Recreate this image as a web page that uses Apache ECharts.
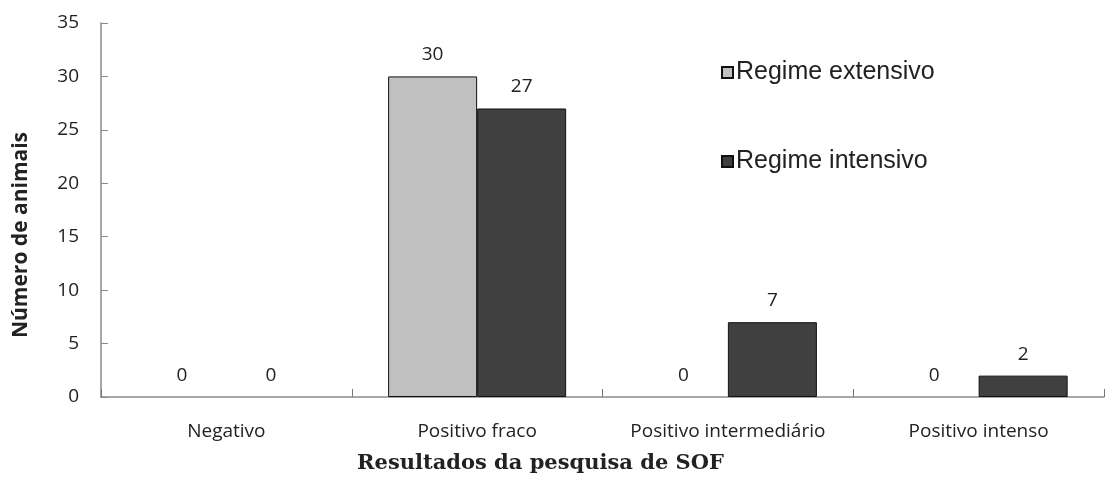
<!DOCTYPE html>
<html>
<head>
<meta charset="utf-8">
<script src="https://cdn.jsdelivr.net/npm/echarts@6/dist/echarts.min.js"></script>
<style>
  html, body { margin: 0; padding: 0; background: #fff; }
  #chart { width: 1110px; height: 483px; }
</style>
</head>
<body>
<div id="chart"></div>
<script>
// Resultados da pesquisa de SOF por regime de criação
const categories = ['Negativo', 'Positivo fraco', 'Positivo intermediário', 'Positivo intenso'];
const extensivo = [0, 30, 0, 0];
const intensivo = [0, 27, 7, 2];
const yTicks = { min: 0, max: 35, interval: 5 };

const labelFont = { fontFamily: 'Open Sans', fontSize: 19, color: '#222' };

// zero-height bars get no outline, so only the value label shows
const toItems = (values) => values.map(v => ({
  value: v,
  itemStyle: { borderWidth: v === 0 ? 0 : 1 }
}));

const chart = echarts.init(document.getElementById('chart'));
chart.setOption({
  animation: false,
  backgroundColor: '#fff',
  grid: { left: 101, right: 6, top: 23, bottom: 86 },
  legend: {
    orient: 'vertical',
    left: 716,
    top: 55,
    itemGap: 64,
    itemWidth: 11,
    itemHeight: 11,
    icon: 'rect',
    textStyle: { fontFamily: 'Liberation Sans', fontSize: 25, color: '#222', padding: [0, 0, 0, -2] },
    data: ['Regime extensivo', 'Regime intensivo']
  },
  xAxis: {
    type: 'category',
    data: categories,
    boundaryGap: true,
    name: 'Resultados da pesquisa de SOF',
    nameLocation: 'middle',
    nameGap: 56,
    nameTextStyle: {
      fontFamily: 'DejaVu Serif', fontWeight: 'bold', fontSize: 21, color: '#222',
      padding: [0, 124, 0, 0]
    },
    axisLine: { lineStyle: { color: '#8a8a8a', width: 1.5 } },
    axisTick: { show: true, inside: true, interval: 0, length: 8, lineStyle: { color: '#777' } },
    axisLabel: { interval: 0, margin: 25, fontFamily: 'Open Sans', fontSize: 19, color: '#222' },
    splitLine: { show: false }
  },
  yAxis: {
    type: 'value',
    min: yTicks.min,
    max: yTicks.max,
    interval: yTicks.interval,
    name: 'Número de animais',
    nameLocation: 'middle',
    nameGap: 69,
    nameTextStyle: {
      fontFamily: 'Open Sans', fontWeight: 'bold', fontSize: 21, color: '#222',
      padding: [0, 50, 0, 0]
    },
    axisLine: { show: true, lineStyle: { color: '#8a8a8a', width: 1.5 } },
    axisTick: { show: true, inside: true, length: 7, lineStyle: { color: '#8a8a8a' } },
    axisLabel: { margin: 22, fontFamily: 'Open Sans', fontSize: 19, color: '#222' },
    splitLine: { show: false }
  },
  series: [
    {
      name: 'Regime extensivo',
      type: 'bar',
      data: toItems(extensivo),
      barGap: '0%',
      barCategoryGap: '29%',
      itemStyle: { color: '#c0c0c0', borderColor: '#111', borderWidth: 1 },
      label: { show: true, position: 'top', distance: 12, ...labelFont }
    },
    {
      name: 'Regime intensivo',
      type: 'bar',
      data: toItems(intensivo),
      barGap: '0%',
      barCategoryGap: '29%',
      itemStyle: { color: '#404040', borderColor: '#111', borderWidth: 1 },
      label: { show: true, position: 'top', distance: 12, ...labelFont }
    }
  ]
});
</script>
</body>
</html>
